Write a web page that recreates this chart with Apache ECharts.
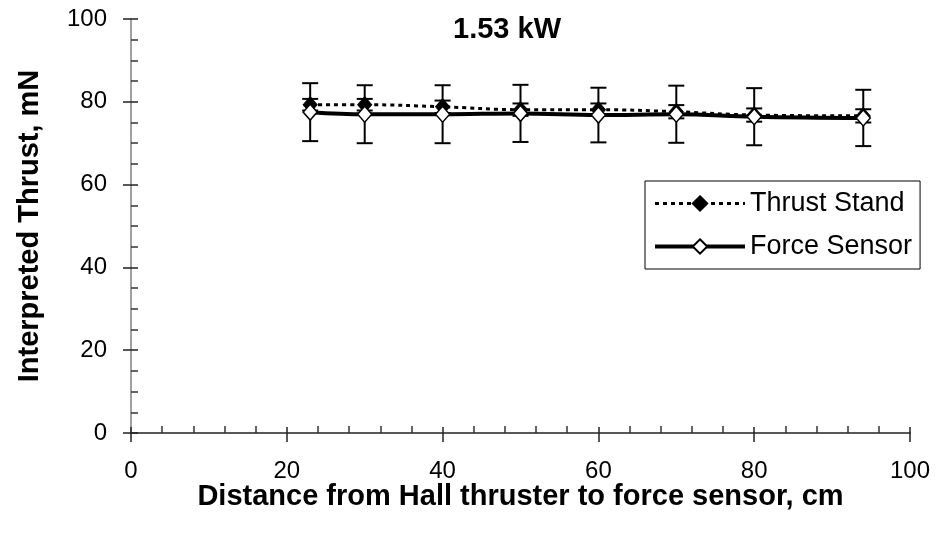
<!DOCTYPE html>
<html><head><meta charset="utf-8">
<script src="https://cdn.jsdelivr.net/npm/echarts@6/dist/echarts.min.js"></script>
<style>html,body{margin:0;padding:0;background:#fff}#c{width:937px;height:535px}</style>
</head><body><div id="c"></div>
<script>
// Data
const distance = [23, 30, 40, 50, 60, 70, 80, 94];
const thrustStand = [79.3, 79.3, 78.8, 78.1, 78.1, 77.6, 76.8, 76.6];
const thrustStandErr = [1.4, 1.4, 1.5, 1.5, 1.5, 1.6, 1.6, 1.6];
const forceSensor = [77.5, 77.0, 77.0, 77.2, 76.8, 77.0, 76.4, 76.1];
const forceSensorErr = [7.0, 7.0, 7.0, 6.9, 6.6, 6.9, 6.9, 6.8];
const xTickLabels = ['0', '20', '40', '60', '80', '100'];
const yTickLabels = ['0', '20', '40', '60', '80', '100'];

const FONT = 'Liberation Sans';
const chart = echarts.init(document.getElementById('c'), null, {renderer: 'canvas'});

const tsLine = distance.map((x, i) => [x, thrustStand[i]]);
const fsLine = distance.map((x, i) => [x, forceSensor[i]]);
const tsErr = distance.map((x, i) => [x, thrustStand[i] - thrustStandErr[i], thrustStand[i] + thrustStandErr[i]]);
const fsErr = distance.map((x, i) => [x, forceSensor[i] - forceSensorErr[i], forceSensor[i] + forceSensorErr[i]]);

function errRender(params, api) {
  const x = api.value(0), lo = api.value(1), hi = api.value(2);
  const pLo = api.coord([x, lo]), pHi = api.coord([x, hi]);
  const w = 8;
  const style = {stroke: '#000', lineWidth: 2, fill: null};
  return {type: 'group', children: [
    {type: 'line', shape: {x1: pLo[0], y1: pLo[1], x2: pHi[0], y2: pHi[1]}, style: style},
    {type: 'line', shape: {x1: pLo[0] - w, y1: pLo[1], x2: pLo[0] + w, y2: pLo[1]}, style: style},
    {type: 'line', shape: {x1: pHi[0] - w, y1: pHi[1], x2: pHi[0] + w, y2: pHi[1]}, style: style}
  ]};
}

const labelFmt = (arr) => (v) => { const s = String(v); return arr.indexOf(s) >= 0 ? s : ''; };

const TS_DASH = [4, 4];

const option = {
  backgroundColor: '#fff',
  animation: false,
  grid: {left: 131, right: 27, top: 19, bottom: 102, containLabel: false},
  graphic: [{
    type: 'text', x: 507, y: 30,
    style: {text: '1.53 kW', textAlign: 'center', textVerticalAlign: 'middle',
      font: 'bold 29px "Liberation Sans"', fill: '#000'}
  }],
  legend: {
    data: [
      {name: 'Thrust Stand', lineStyle: {width: 3, type: TS_DASH, color: '#000'}},
      {name: 'Force Sensor', lineStyle: {width: 4, type: 'solid', color: '#000'}}
    ],
    orient: 'vertical', left: 645, top: 181,
    itemWidth: 90, itemHeight: 18, itemGap: 16, itemTextGap: 7,
    padding: [9, 8, 9, 8],
    borderColor: '#000', borderWidth: 1, borderRadius: 0,
    textStyle: {fontFamily: FONT, fontSize: 27, color: '#000', lineHeight: 27}
  },
  xAxis: [{
    type: 'value', min: 0, max: 100, interval: 20, position: 'bottom',
    name: 'Distance from Hall thruster to force sensor, cm', nameLocation: 'middle', nameGap: 49,
    nameMoveOverlap: false,
    nameTextStyle: {fontFamily: FONT, fontSize: 29, fontWeight: 'bold', color: '#000'},
    axisLine: {onZero: false, lineStyle: {color: '#222', width: 1.5}},
    axisTick: {show: true, inside: false, length: 9, lineStyle: {color: '#222', width: 1.5}},
    minorTick: {show: false},
    axisLabel: {fontFamily: FONT, fontSize: 24, color: '#000', margin: 26, formatter: labelFmt(xTickLabels)},
    splitLine: {show: false}
  }, {
    type: 'value', min: 0, max: 100, interval: 20, position: 'bottom',
    axisLine: {show: false, onZero: false},
    axisTick: {show: true, inside: true, length: 6, lineStyle: {color: '#222', width: 1.5}},
    minorTick: {show: true, splitNumber: 5, length: 7, lineStyle: {color: '#333', width: 1.5}},
    axisLabel: {show: false},
    splitLine: {show: false}
  }],
  yAxis: [{
    type: 'value', min: 0, max: 100, interval: 20, position: 'left',
    name: 'Interpreted Thrust, mN', nameLocation: 'middle', nameGap: 87,
    nameTextStyle: {fontFamily: FONT, fontSize: 29, fontWeight: 'bold', color: '#000'},
    axisLine: {show: true, onZero: false, lineStyle: {color: '#808080', width: 1.5}},
    axisTick: {show: true, inside: false, length: 8, lineStyle: {color: '#222', width: 1.5}},
    minorTick: {show: false},
    axisLabel: {fontFamily: FONT, fontSize: 24, color: '#000', margin: 24, formatter: labelFmt(yTickLabels)},
    splitLine: {show: false}
  }, {
    type: 'value', min: 0, max: 100, interval: 20, position: 'left',
    axisLine: {show: false, onZero: false},
    axisTick: {show: true, inside: true, length: 7, lineStyle: {color: '#222', width: 1.5}},
    minorTick: {show: true, splitNumber: 4, length: 7, lineStyle: {color: '#333', width: 1.5}},
    axisLabel: {show: false},
    splitLine: {show: false}
  }],
  series: [{
    name: 'FS error', type: 'custom', renderItem: errRender, data: fsErr, z: 1,
    xAxisIndex: 0, yAxisIndex: 0, encode: {x: 0, y: [1, 2]}, silent: true
  }, {
    name: 'TS error', type: 'custom', renderItem: errRender, data: tsErr, z: 1,
    xAxisIndex: 0, yAxisIndex: 0, encode: {x: 0, y: [1, 2]}, silent: true
  }, {
    name: 'Thrust Stand', type: 'line', data: tsLine, smooth: 0.4, z: 3,
    symbol: 'diamond', symbolSize: [14, 16], showAllSymbol: true,
    lineStyle: {color: '#000', width: 3, type: TS_DASH},
    itemStyle: {color: '#000', borderColor: '#000', borderWidth: 1}
  }, {
    name: 'Force Sensor', type: 'line', data: fsLine, smooth: 0.4, z: 4,
    symbol: 'diamond', symbolSize: [14, 16], showAllSymbol: true,
    lineStyle: {color: '#000', width: 4, type: 'solid'},
    itemStyle: {color: '#fff', borderColor: '#000', borderWidth: 1.5}
  }]
};
chart.setOption(option);
</script>
</body></html>
